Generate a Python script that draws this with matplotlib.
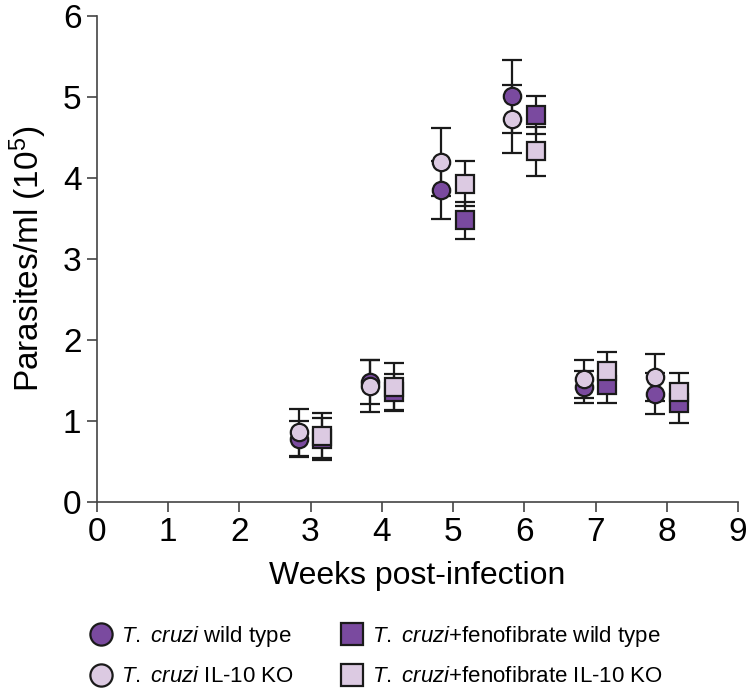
import matplotlib
matplotlib.use("Agg")
import matplotlib.pyplot as plt
from matplotlib.lines import Line2D

plt.rcParams['font.family'] = ['Liberation Sans', 'DejaVu Sans']
plt.rcParams['mathtext.fontset'] = 'custom'
plt.rcParams['mathtext.rm'] = 'Liberation Sans'
plt.rcParams['mathtext.it'] = 'Liberation Sans:italic'

weeks = [3, 4, 5, 6, 7, 8]

wt_mean = [0.78, 1.48, 3.85, 5.01, 1.42, 1.34]
wt_err = [0.22, 0.27, 0.36, 0.45, 0.20, 0.25]
ko_mean = [0.86, 1.43, 4.20, 4.73, 1.52, 1.54]
ko_err = [0.29, 0.32, 0.42, 0.42, 0.24, 0.29]
feno_wt_mean = [0.78, 1.36, 3.48, 4.78, 1.45, 1.22]
feno_wt_err = [0.26, 0.22, 0.23, 0.23, 0.23, 0.24]
feno_ko_mean = [0.82, 1.42, 3.93, 4.33, 1.62, 1.36]
feno_ko_err = [0.28, 0.30, 0.28, 0.30, 0.23, 0.23]

labels = [r'$\mathit{T.}$ $\mathit{cruzi}$ wild type',
          r'$\mathit{T.}$ $\mathit{cruzi}$ IL-10 KO',
          r'$\mathit{T.}$ $\mathit{cruzi}$+fenofibrate wild type',
          r'$\mathit{T.}$ $\mathit{cruzi}$+fenofibrate IL-10 KO']

dark = '#7a4a9f'
light = '#dccae2'
edge = '#1a1a1a'

fig = plt.figure(figsize=(7.5, 6.93), dpi=100)
ax = fig.add_axes([0.129, 0.2756, 0.855, 0.701])

off = 0.165
xc = [w - off for w in weeks]
xs = [w + off for w in weeks]

series = [
    (xc, wt_mean, wt_err, 'o', dark, 12.5, 3),
    (xs, feno_wt_mean, feno_wt_err, 's', dark, 12.5, 3),
    (xc, ko_mean, ko_err, 'o', light, 12.5, 4),
    (xs, feno_ko_mean, feno_ko_err, 's', light, 12.5, 4),
]

# error bars behind every marker
for x, m, e, mk, col, ms, z in series:
    ax.errorbar(x, m, yerr=e, fmt='none', ecolor=edge, elinewidth=1.6,
                capsize=7.2, capthick=1.6, zorder=2)
for x, m, e, mk, col, ms, z in series:
    ax.plot(x, m, linestyle='none', marker=mk, markersize=ms,
            markerfacecolor=col, markeredgecolor=edge, markeredgewidth=1.6,
            zorder=z)

ax.set_xlim(0, 9)
ax.set_ylim(0, 6)
ax.set_xticks(range(0, 10))
ax.set_yticks(range(0, 7))
ax.tick_params(labelsize=24, length=7, width=1.2, color='#444444', pad=4)
for s in ['top', 'right']:
    ax.spines[s].set_visible(False)
for s in ['left', 'bottom']:
    ax.spines[s].set_linewidth(1.2)
    ax.spines[s].set_color('#444444')

ax.set_xlabel('Weeks post-infection', fontsize=23, labelpad=9)
ax.set_ylabel(r'Parasites/ml (10$^{5}$)', fontsize=24, labelpad=10)

handles = []
for mk, col in [('o', dark), ('o', light), ('s', dark), ('s', light)]:
    handles.append(Line2D([], [], linestyle='none', marker=mk, markersize=16,
                          markerfacecolor=col, markeredgecolor=edge,
                          markeredgewidth=1.6))

fig.legend(handles, labels, ncol=2, loc='upper left', bbox_to_anchor=(0.117, 0.10),
           frameon=False, fontsize=16, handletextpad=0.3, columnspacing=2.0,
           labelspacing=0.8, handlelength=1.2, borderpad=0, borderaxespad=0)

fig.savefig('out.png', dpi=100)
